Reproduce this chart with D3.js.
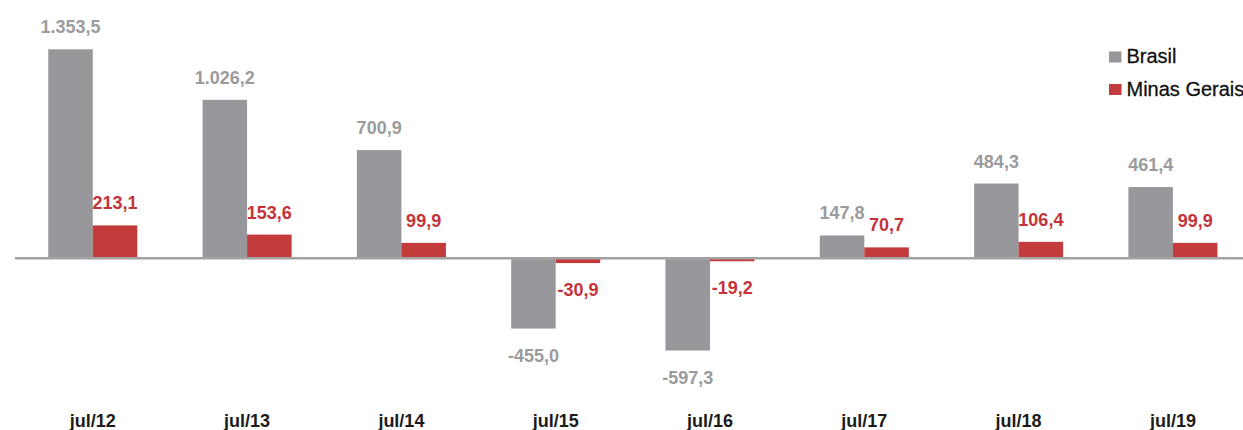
<!DOCTYPE html>
<html>
<head>
<meta charset="utf-8">
<script src="https://cdn.jsdelivr.net/npm/d3@7"></script>
<style>
  body { margin: 0; background: #fff; }
  svg { display: block; font-family: "Liberation Sans", Arial, sans-serif; }
</style>
</head>
<body>
<div id="chart"></div>
<script>
var width = 1243, height = 430;

// data
var categories = ["jul/12", "jul/13", "jul/14", "jul/15", "jul/16", "jul/17", "jul/18", "jul/19"];
var seriesNames = ["Brasil", "Minas Gerais"];
var brasil = [1353.5, 1026.2, 700.9, -455.0, -597.3, 147.8, 484.3, 461.4];
var minas = [213.1, 153.6, 99.9, -30.9, -19.2, 70.7, 106.4, 99.9];
var colors = ["#98989c", "#c33b3b"];
var labelColors = ["#9b9b9d", "#c4333a"];

var fmt = function(v) {
  // brazilian number format: 1.353,5
  var s = d3.format(",.1f")(v);
  return s.replace(/,/g, "#").replace(".", ",").replace(/#/g, ".").replace("−", "-");
};

var rows = categories.map(function(c, i) {
  return {cat: c, values: [brasil[i], minas[i]]};
});

var svg = d3.select("#chart")
  .append("svg")
  .attr("width", width)
  .attr("height", height);

var x = d3.scaleBand()
  .domain(categories)
  .range([17.4, 1248.3])
  .paddingInner(0.423)
  .paddingOuter(0.2);

var xs = d3.scaleBand()
  .domain(seriesNames)
  .range([0, x.bandwidth()])
  .padding(0);

var y = d3.scaleLinear()
  .domain([0, 1353.5])
  .range([258.3, 49.3]);

// bars
var groups = svg.selectAll("g.grp")
  .data(rows)
  .enter()
  .append("g")
  .attr("class", "grp")
  .attr("transform", function(d) { return "translate(" + x(d.cat) + ",0)"; });

groups.selectAll("rect")
  .data(function(d) { return d.values.map(function(v, j) { return {v: v, s: seriesNames[j], j: j}; }); })
  .enter()
  .append("rect")
  .attr("x", function(d) { return xs(d.s); })
  .attr("y", function(d) { return y(Math.max(0, d.v)); })
  .attr("width", xs.bandwidth())
  .attr("height", function(d) { return Math.abs(y(d.v) - y(0)); })
  .style("fill", function(d) { return colors[d.j]; });

groups.selectAll("text.val")
  .data(function(d) { return d.values.map(function(v, j) { return {v: v, s: seriesNames[j], j: j}; }); })
  .enter()
  .append("text")
  .attr("class", "val")
  .attr("x", function(d) { return xs(d.s) + xs.bandwidth() / 2; })
  .attr("y", function(d) { return d.v >= 0 ? y(d.v) - 16 : y(d.v) + 33; })
  .attr("text-anchor", "middle")
  .attr("font-size", "18px")
  .attr("font-weight", "bold")
  .attr("fill", function(d) { return labelColors[d.j]; })
  .text(function(d) { return fmt(d.v); });

// zero line
svg.append("line")
  .attr("x1", 15)
  .attr("x2", width)
  .attr("y1", y(0))
  .attr("y2", y(0))
  .style("stroke", "#a3a3a3")
  .style("stroke-width", 2.4);

// category labels
svg.selectAll("text.cat")
  .data(categories)
  .enter()
  .append("text")
  .attr("class", "cat")
  .attr("x", function(d) { return x(d) + x.bandwidth() / 2; })
  .attr("y", 427)
  .attr("text-anchor", "middle")
  .attr("font-size", "18px")
  .attr("font-weight", "bold")
  .attr("fill", "#1c1c1c")
  .text(function(d) { return d; });

// legend
var legend = svg.selectAll("g.leg")
  .data(seriesNames)
  .enter()
  .append("g")
  .attr("class", "leg")
  .attr("transform", function(d, i) { return "translate(1109," + (63 + i * 32.5) + ")"; });

legend.append("rect")
  .attr("x", 0)
  .attr("y", -11.5)
  .attr("width", 12.5)
  .attr("height", 11)
  .style("fill", function(d, i) { return colors[i]; });

legend.append("text")
  .attr("x", 17.5)
  .attr("y", 0)
  .attr("font-size", "20px")
  .attr("fill", "#111")
  .style("stroke", "#111")
  .style("stroke-width", 0.3)
  .text(function(d) { return d; });
</script>
</body>
</html>
